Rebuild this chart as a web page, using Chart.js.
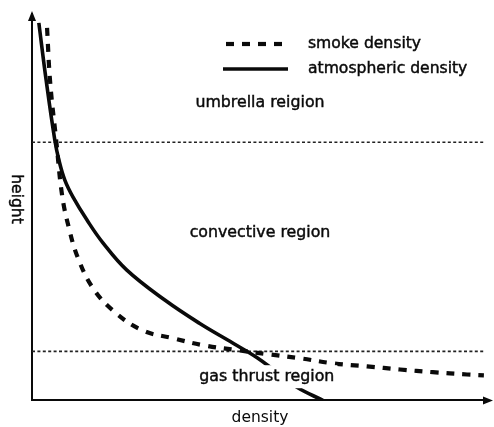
<!DOCTYPE html>
<html>
<head>
<meta charset="utf-8">
<script src="https://cdn.jsdelivr.net/npm/chart.js@4.4.1/dist/chart.umd.min.js"></script>
<style>
  html, body { margin: 0; padding: 0; background: #ffffff; }
  #wrap { width: 494px; height: 427px; }
</style>
</head>
<body>
<div id="wrap"><canvas id="c" width="494" height="427"></canvas></div>
<script>
// ---- data (arbitrary units: density 0..100, height 0..100) ----
const smokeDensity = [3.3, 4.0, 5.3, 6.6, 8.1, 10.1, 13.4, 18.2, 24.3, 30.9, 37.9, 45.0, 52.2, 58.8, 66.0, 73.5, 80.7, 87.9, 95.4, 99.1];
const smokeHeight  = [96.4, 82.1, 67.4, 53.1, 44.6, 36.8, 29.0, 22.8, 18.1, 16.1, 14.2, 13.0, 11.9, 10.9, 9.6, 8.8, 8.0, 7.3, 6.7, 6.5];

const atmDensity = [1.5, 3.1, 5.0, 5.9, 7.2, 9.0, 12.1, 15.6, 20.8, 29.2, 36.8, 44.1, 49.3, 54.0, 58.1, 63.8];
const atmHeight  = [97.7, 82.9, 67.4, 62.2, 57.0, 52.6, 46.6, 40.7, 33.7, 25.9, 19.9, 14.8, 11.1, 7.0, 3.4, 0.0];

const regionBoundaries = [66.8, 12.7];          // heights of the dotted region limits
const boundaryExtent   = [0, 99.1];             // density span of the dotted limits
const regionLabels     = ['umbrella reigion', 'convective region', 'gas thrust region'];
const regionLabelPos   = [[50, 76.9], [50, 43.3], [51.5, 6.0]];   // [density, height]
const seriesLabels     = ['smoke density', 'atmospheric density'];
const axisTitles       = { x: 'density', y: 'height' };

const FONT = '"DejaVu Sans", "Liberation Sans", Arial, sans-serif';
const INK = '#0a0a0a';

const toPts = (xs, ys) => xs.map((x, i) => ({ x: x, y: ys[i] }));

const datasets = [
  {
    label: seriesLabels[0],
    data: toPts(smokeDensity, smokeHeight),
    borderColor: INK, borderWidth: 4.2, borderDash: [8, 8],
    showLine: true, pointRadius: 0, tension: 0.4, isSeries: true
  },
  {
    label: seriesLabels[1],
    data: toPts(atmDensity, atmHeight),
    borderColor: INK, borderWidth: 3.6,
    showLine: true, pointRadius: 0, tension: 0.4, isSeries: true
  }
];
regionBoundaries.forEach(h => {
  datasets.push({
    label: 'boundary',
    data: boundaryExtent.map(x => ({ x: x, y: h })),
    borderColor: '#222222', borderWidth: 1.6, borderDash: [3, 2.4],
    showLine: true, pointRadius: 0, isSeries: false
  });
});

function heavyText(ctx, t, x, y) {
  ctx.fillText(t, x, y);
  ctx.strokeText(t, x, y);
}

const decor = {
  id: 'decor',
  afterDatasetsDraw(chart) {
    const ctx = chart.ctx;
    const xs = chart.scales.x, ys = chart.scales.y;
    const area = chart.chartArea;
    ctx.save();
    ctx.fillStyle = INK;
    ctx.strokeStyle = INK;
    ctx.lineWidth = 0.45;
    ctx.textAlign = 'center';
    ctx.textBaseline = 'middle';
    ctx.font = '15.8px ' + FONT;
    regionLabels.forEach((t, i) => {
      const px = xs.getPixelForValue(regionLabelPos[i][0]);
      const py = ys.getPixelForValue(regionLabelPos[i][1]);
      if (i === 2) {
        const w = ctx.measureText(t).width;
        ctx.fillStyle = '#ffffff';
        ctx.fillRect(px - w / 2 - 3, py - 12, w + 6, 23);
        ctx.fillStyle = INK;
      }
      heavyText(ctx, t, px, py);
    });

    // legend
    const series = chart.data.datasets.filter(d => d.isSeries);
    const rows = [44, 69];
    ctx.textAlign = 'left';
    series.forEach((ds, i) => {
      ctx.save();
      ctx.strokeStyle = ds.borderColor;
      ctx.lineWidth = i === 0 ? 4.2 : 3.4;
      ctx.setLineDash(ds.borderDash || []);
      ctx.beginPath();
      ctx.moveTo(i === 0 ? 226 : 223, rows[i]);
      ctx.lineTo(288, rows[i]);
      ctx.stroke();
      ctx.restore();
      ctx.font = '15.6px ' + FONT;
      heavyText(ctx, ds.label, 308, rows[i]);
    });

    // axis arrows
    ctx.fillStyle = INK;
    ctx.beginPath();
    ctx.moveTo(area.left, area.top - 3);
    ctx.lineTo(area.left - 4, area.top + 7);
    ctx.lineTo(area.left + 4, area.top + 7);
    ctx.closePath();
    ctx.fill();
    ctx.beginPath();
    ctx.moveTo(area.right + 5, area.bottom);
    ctx.lineTo(area.right - 5, area.bottom - 4);
    ctx.lineTo(area.right - 5, area.bottom + 4);
    ctx.closePath();
    ctx.fill();

    // y axis title (rotated clockwise)
    ctx.save();
    ctx.translate(16, 199);
    ctx.rotate(Math.PI / 2);
    ctx.textAlign = 'center';
    ctx.textBaseline = 'middle';
    ctx.font = '15.5px ' + FONT;
    heavyText(ctx, axisTitles.y, 0, 0);
    ctx.restore();
    ctx.restore();
  }
};

new Chart(document.getElementById('c'), {
  type: 'scatter',
  data: { datasets: datasets },
  options: {
    responsive: false,
    animation: false,
    layout: { padding: { left: 32, top: 14, right: 6, bottom: 0 } },
    plugins: { legend: { display: false }, tooltip: { enabled: false } },
    scales: {
      x: {
        type: 'linear', min: 0, max: 100,
        grid: { display: false, drawTicks: false },
        ticks: { display: false },
        border: { display: true, color: INK, width: 2 },
        title: { display: true, text: axisTitles.x, color: INK,
                 font: { family: FONT, size: 15.5 }, padding: { top: 8, bottom: 0 } }
      },
      y: {
        type: 'linear', min: 0, max: 100,
        grid: { display: false, drawTicks: false },
        ticks: { display: false },
        border: { display: true, color: INK, width: 2 }
      }
    }
  },
  plugins: [decor]
});
</script>
</body>
</html>
